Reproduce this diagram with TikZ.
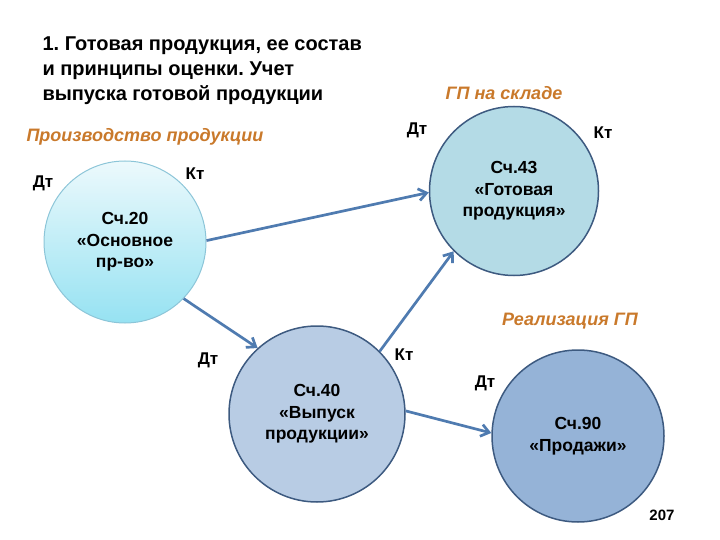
\documentclass[tikz,border=0pt]{standalone}
\usepackage{fontspec}
\setmainfont{Liberation Sans}
\usetikzlibrary{arrows.meta}
\definecolor{arrowblue}{RGB}{79,123,176}
\definecolor{rimblue}{RGB}{61,90,128}
\definecolor{fill43}{RGB}{180,219,230}
\definecolor{fill40}{RGB}{184,204,228}
\definecolor{fill90}{RGB}{149,179,215}
\definecolor{rim20}{RGB}{140,197,216}
\definecolor{top20}{RGB}{236,249,252}
\definecolor{bottom20}{RGB}{150,226,242}
\definecolor{orangelbl}{RGB}{201,121,43}
\frenchspacing
\begin{document}
\begin{tikzpicture}[x=1pt,y=-1pt,
  acc/.style={circle,draw=rimblue,line width=1.5pt,align=center,
    font=\fontsize{17.5}{21.5}\selectfont\bfseries},
  arr/.style={-{Straight Barb[length=8pt,width=12pt]},line width=2.7pt,draw=arrowblue},
  side/.style={font=\fontsize{17}{20}\selectfont\bfseries},
  area/.style={text=orangelbl,font=\fontsize{18}{20}\selectfont\bfseries\itshape}]
  \useasboundingbox (0,0) rectangle (720,540);
  % title
  \node[anchor=north west,align=left,font=\fontsize{20}{25}\selectfont\bfseries]
    (title) at (39,33) {1. Готовая продукция, ее состав\\и принципы оценки. Учет\\выпуска готовой продукции};
  % accounts
  \node[acc,minimum size=162pt,draw=rim20,line width=1pt,top color=top20,bottom color=bottom20]
    (c20) at (125,242) {Сч.20\\«Основное\\пр-во»};
  \node[acc,minimum size=169pt,fill=fill43](c43) at (514,191) {Сч.43\\«Готовая\\продукция»};
  \node[acc,minimum size=176pt,fill=fill40](c40) at (317,414) {Сч.40\\«Выпуск\\продукции»};
  \node[acc,minimum size=172pt,fill=fill90](c90) at (578,436) {Сч.90\\«Продажи»};
  % areas
  \node[area](prod) at (145,137) {Производство продукции};
  \node[area](store) at (504,93) {ГП на складе};
  \node[area](sale) at (570,321) {Реализация ГП};
  % debit / credit
  \node[side](dt20) at (43,183) {Дт};
  \node[side](kt20) at (195,174) {Кт};
  \node[side](dt43) at (417,130) {Дт};
  \node[side](kt43) at (603,133) {Кт};
  \node[side](dt40) at (208,360) {Дт};
  \node[side](kt40) at (404,355) {Кт};
  \node[side](dt90) at (485,383) {Дт};
  \node[font=\fontsize{15}{17}\selectfont\bfseries](page) at (662,515) {207};
  % postings
  \draw[arr](c20.1)--(c43.181);
  \draw[arr](c20.316)--(c40.132);
  \draw[arr](c40.45)--(c43.225);
  \draw[arr](c40.2)--(c90.178);
\end{tikzpicture}
\end{document}
